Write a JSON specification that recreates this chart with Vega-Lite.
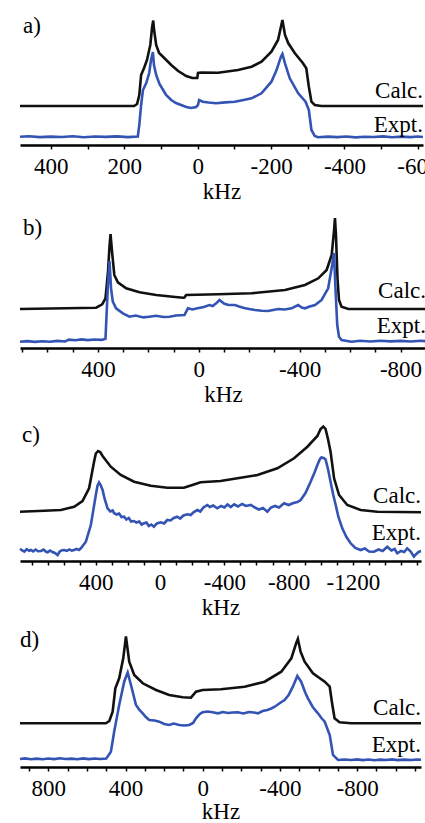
{
  "$schema": "https://vega.github.io/schema/vega-lite/v6.json",
  "padding": {"left": 14, "top": 8, "right": 0, "bottom": 0},
  "spacing": 62,
  "bounds": "flush",
  "config": {
    "view": {"stroke": null},
    "font": "Liberation Serif",
    "text": {"font": "Liberation Serif"},
    "axis": {
      "labelFont": "Liberation Serif", "labelFontSize": 23, "labelColor": "#000",
      "titleFont": "Liberation Serif", "titleFontSize": 23, "titleFontWeight": "normal", "titleColor": "#000",
      "domainColor": "#000", "domainWidth": 2.5, "tickColor": "#000", "tickWidth": 1.5, "tickSize": 4,
      "labelPadding": 6, "titlePadding": 2, "grid": false, "labelOverlap": false, "labelFlush": false
    },
    "line": {"strokeWidth": 2.6}
  },
  "datasets": {
    "a": [
      {"kHz":484,"intensity":39,"series":"Calc"},{"kHz":173,"intensity":39,"series":"Calc"},{"kHz":165,"intensity":41,"series":"Calc"},{"kHz":159,"intensity":50,"series":"Calc"},{"kHz":154,"intensity":70,"series":"Calc"},{"kHz":146,"intensity":77,"series":"Calc"},{"kHz":138,"intensity":85,"series":"Calc"},{"kHz":129,"intensity":100,"series":"Calc"},{"kHz":124,"intensity":118,"series":"Calc"},{"kHz":121,"intensity":124.5,"series":"Calc"},{"kHz":119,"intensity":116,"series":"Calc"},{"kHz":113,"intensity":100,"series":"Calc"},{"kHz":105,"intensity":92,"series":"Calc"},{"kHz":91,"intensity":87,"series":"Calc"},{"kHz":72,"intensity":80,"series":"Calc"},{"kHz":53,"intensity":74,"series":"Calc"},{"kHz":31,"intensity":69,"series":"Calc"},{"kHz":15,"intensity":67,"series":"Calc"},{"kHz":1,"intensity":67,"series":"Calc"},{"kHz":-1,"intensity":72,"series":"Calc"},{"kHz":-10,"intensity":72.5,"series":"Calc"},{"kHz":-56,"intensity":72.3,"series":"Calc"},{"kHz":-110,"intensity":75,"series":"Calc"},{"kHz":-147,"intensity":78.3,"series":"Calc"},{"kHz":-174,"intensity":83.3,"series":"Calc"},{"kHz":-201,"intensity":93.3,"series":"Calc"},{"kHz":-219,"intensity":105,"series":"Calc"},{"kHz":-228,"intensity":120,"series":"Calc"},{"kHz":-231,"intensity":125,"series":"Calc"},{"kHz":-238,"intensity":110,"series":"Calc"},{"kHz":-247,"intensity":101.7,"series":"Calc"},{"kHz":-265,"intensity":91.7,"series":"Calc"},{"kHz":-287,"intensity":81.7,"series":"Calc"},{"kHz":-296,"intensity":76.7,"series":"Calc"},{"kHz":-303,"intensity":58.3,"series":"Calc"},{"kHz":-310,"intensity":43.3,"series":"Calc"},{"kHz":-319,"intensity":40,"series":"Calc"},{"kHz":-337,"intensity":39,"series":"Calc"},{"kHz":-614,"intensity":39,"series":"Calc"},
      {"kHz":484,"intensity":8.3,"series":"Expt"},{"kHz":460,"intensity":8.8,"series":"Expt"},{"kHz":430,"intensity":7.9,"series":"Expt"},{"kHz":400,"intensity":8.4,"series":"Expt"},{"kHz":370,"intensity":8.0,"series":"Expt"},{"kHz":340,"intensity":8.7,"series":"Expt"},{"kHz":310,"intensity":7.8,"series":"Expt"},{"kHz":280,"intensity":8.5,"series":"Expt"},{"kHz":250,"intensity":8.1,"series":"Expt"},{"kHz":220,"intensity":8.6,"series":"Expt"},{"kHz":190,"intensity":7.9,"series":"Expt"},{"kHz":163,"intensity":8.5,"series":"Expt"},{"kHz":159,"intensity":20,"series":"Expt"},{"kHz":154,"intensity":40,"series":"Expt"},{"kHz":149,"intensity":55,"series":"Expt"},{"kHz":140,"intensity":62,"series":"Expt"},{"kHz":132,"intensity":72,"series":"Expt"},{"kHz":127,"intensity":85,"series":"Expt"},{"kHz":122,"intensity":93,"series":"Expt"},{"kHz":119,"intensity":80,"series":"Expt"},{"kHz":113,"intensity":70,"series":"Expt"},{"kHz":104,"intensity":61,"series":"Expt"},{"kHz":94,"intensity":55,"series":"Expt"},{"kHz":86,"intensity":50,"series":"Expt"},{"kHz":72,"intensity":45,"series":"Expt"},{"kHz":59,"intensity":42,"series":"Expt"},{"kHz":45,"intensity":40,"series":"Expt"},{"kHz":31,"intensity":38,"series":"Expt"},{"kHz":18,"intensity":37,"series":"Expt"},{"kHz":4,"intensity":38,"series":"Expt"},{"kHz":-1,"intensity":40,"series":"Expt"},{"kHz":-4,"intensity":45,"series":"Expt"},{"kHz":-14,"intensity":43.3,"series":"Expt"},{"kHz":-30,"intensity":42.5,"series":"Expt"},{"kHz":-50,"intensity":41.7,"series":"Expt"},{"kHz":-75,"intensity":42.6,"series":"Expt"},{"kHz":-101,"intensity":43.3,"series":"Expt"},{"kHz":-125,"intensity":45,"series":"Expt"},{"kHz":-147,"intensity":46.7,"series":"Expt"},{"kHz":-174,"intensity":51.7,"series":"Expt"},{"kHz":-201,"intensity":63.3,"series":"Expt"},{"kHz":-215,"intensity":75,"series":"Expt"},{"kHz":-227,"intensity":88.3,"series":"Expt"},{"kHz":-231,"intensity":91,"series":"Expt"},{"kHz":-238,"intensity":81.7,"series":"Expt"},{"kHz":-251,"intensity":66.7,"series":"Expt"},{"kHz":-274,"intensity":51.7,"series":"Expt"},{"kHz":-294,"intensity":43.3,"series":"Expt"},{"kHz":-303,"intensity":35,"series":"Expt"},{"kHz":-310,"intensity":15,"series":"Expt"},{"kHz":-319,"intensity":9,"series":"Expt"},{"kHz":-328,"intensity":7.7,"series":"Expt"},{"kHz":-355,"intensity":8.4,"series":"Expt"},{"kHz":-380,"intensity":7.9,"series":"Expt"},{"kHz":-405,"intensity":8.5,"series":"Expt"},{"kHz":-430,"intensity":7.6,"series":"Expt"},{"kHz":-455,"intensity":8.3,"series":"Expt"},{"kHz":-480,"intensity":8.0,"series":"Expt"},{"kHz":-505,"intensity":8.6,"series":"Expt"},{"kHz":-530,"intensity":7.8,"series":"Expt"},{"kHz":-555,"intensity":8.4,"series":"Expt"},{"kHz":-580,"intensity":7.9,"series":"Expt"},{"kHz":-600,"intensity":8.5,"series":"Expt"},{"kHz":-614,"intensity":8.0,"series":"Expt"}
    ],
    "b": [
      {"kHz":709,"intensity":39,"series":"Calc"},{"kHz":407,"intensity":40.3,"series":"Calc"},{"kHz":383,"intensity":43.7,"series":"Calc"},{"kHz":370,"intensity":49.7,"series":"Calc"},{"kHz":360,"intensity":76.3,"series":"Calc"},{"kHz":354,"intensity":102,"series":"Calc"},{"kHz":350,"intensity":114,"series":"Calc"},{"kHz":344,"intensity":96.3,"series":"Calc"},{"kHz":335,"intensity":73,"series":"Calc"},{"kHz":321,"intensity":65.7,"series":"Calc"},{"kHz":288,"intensity":59.7,"series":"Calc"},{"kHz":235,"intensity":55.7,"series":"Calc"},{"kHz":169,"intensity":53,"series":"Calc"},{"kHz":103,"intensity":51.3,"series":"Calc"},{"kHz":63,"intensity":50.3,"series":"Calc"},{"kHz":57,"intensity":50.5,"series":"Calc"},{"kHz":50,"intensity":53,"series":"Calc"},{"kHz":-77,"intensity":53.7,"series":"Calc"},{"kHz":-209,"intensity":54.7,"series":"Calc"},{"kHz":-342,"intensity":58,"series":"Calc"},{"kHz":-421,"intensity":63,"series":"Calc"},{"kHz":-474,"intensity":69.7,"series":"Calc"},{"kHz":-507,"intensity":78,"series":"Calc"},{"kHz":-527,"intensity":93,"series":"Calc"},{"kHz":-536,"intensity":116.3,"series":"Calc"},{"kHz":-540,"intensity":130,"series":"Calc"},{"kHz":-544,"intensity":113,"series":"Calc"},{"kHz":-550,"intensity":69.7,"series":"Calc"},{"kHz":-556,"intensity":48,"series":"Calc"},{"kHz":-566,"intensity":41.3,"series":"Calc"},{"kHz":-593,"intensity":39,"series":"Calc"},{"kHz":-901,"intensity":39,"series":"Calc"},
      {"kHz":709,"intensity":6.3,"series":"Expt"},{"kHz":680,"intensity":6.9,"series":"Expt"},{"kHz":650,"intensity":6.1,"series":"Expt"},{"kHz":620,"intensity":6.8,"series":"Expt"},{"kHz":590,"intensity":6.2,"series":"Expt"},{"kHz":560,"intensity":7.1,"series":"Expt"},{"kHz":530,"intensity":6.5,"series":"Expt"},{"kHz":515,"intensity":8.3,"series":"Expt"},{"kHz":490,"intensity":7.7,"series":"Expt"},{"kHz":465,"intensity":8.6,"series":"Expt"},{"kHz":440,"intensity":7.9,"series":"Expt"},{"kHz":415,"intensity":8.5,"series":"Expt"},{"kHz":385,"intensity":8.1,"series":"Expt"},{"kHz":370,"intensity":9.3,"series":"Expt"},{"kHz":361,"intensity":59.7,"series":"Expt"},{"kHz":354,"intensity":87,"series":"Expt"},{"kHz":348,"intensity":59.7,"series":"Expt"},{"kHz":341,"intensity":46.3,"series":"Expt"},{"kHz":328,"intensity":39.7,"series":"Expt"},{"kHz":301,"intensity":34.7,"series":"Expt"},{"kHz":275,"intensity":31.3,"series":"Expt"},{"kHz":250,"intensity":32.5,"series":"Expt"},{"kHz":220,"intensity":30.6,"series":"Expt"},{"kHz":196,"intensity":31.3,"series":"Expt"},{"kHz":170,"intensity":32.2,"series":"Expt"},{"kHz":140,"intensity":31,"series":"Expt"},{"kHz":116,"intensity":31.3,"series":"Expt"},{"kHz":90,"intensity":32.5,"series":"Expt"},{"kHz":57,"intensity":33,"series":"Expt"},{"kHz":43,"intensity":39.7,"series":"Expt"},{"kHz":25,"intensity":38.5,"series":"Expt"},{"kHz":10,"intensity":39.5,"series":"Expt"},{"kHz":-20,"intensity":41,"series":"Expt"},{"kHz":-42,"intensity":43,"series":"Expt"},{"kHz":-55,"intensity":42,"series":"Expt"},{"kHz":-69,"intensity":44.7,"series":"Expt"},{"kHz":-82,"intensity":48,"series":"Expt"},{"kHz":-100,"intensity":44.5,"series":"Expt"},{"kHz":-117,"intensity":43,"series":"Expt"},{"kHz":-143,"intensity":43,"series":"Expt"},{"kHz":-160,"intensity":41.5,"series":"Expt"},{"kHz":-180,"intensity":40,"series":"Expt"},{"kHz":-200,"intensity":39,"series":"Expt"},{"kHz":-223,"intensity":38,"series":"Expt"},{"kHz":-250,"intensity":37.2,"series":"Expt"},{"kHz":-275,"intensity":37,"series":"Expt"},{"kHz":-295,"intensity":38,"series":"Expt"},{"kHz":-315,"intensity":39,"series":"Expt"},{"kHz":-340,"intensity":38.5,"series":"Expt"},{"kHz":-368,"intensity":39.7,"series":"Expt"},{"kHz":-394,"intensity":43,"series":"Expt"},{"kHz":-408,"intensity":40.5,"series":"Expt"},{"kHz":-421,"intensity":39.7,"series":"Expt"},{"kHz":-440,"intensity":41.5,"series":"Expt"},{"kHz":-461,"intensity":43,"series":"Expt"},{"kHz":-487,"intensity":48,"series":"Expt"},{"kHz":-513,"intensity":59.7,"series":"Expt"},{"kHz":-529,"intensity":83,"series":"Expt"},{"kHz":-536,"intensity":95,"series":"Expt"},{"kHz":-542,"intensity":59.7,"series":"Expt"},{"kHz":-549,"intensity":23,"series":"Expt"},{"kHz":-556,"intensity":11.3,"series":"Expt"},{"kHz":-566,"intensity":8,"series":"Expt"},{"kHz":-606,"intensity":6.3,"series":"Expt"},{"kHz":-640,"intensity":7.2,"series":"Expt"},{"kHz":-680,"intensity":6.5,"series":"Expt"},{"kHz":-720,"intensity":7.3,"series":"Expt"},{"kHz":-760,"intensity":6.6,"series":"Expt"},{"kHz":-800,"intensity":7.1,"series":"Expt"},{"kHz":-840,"intensity":6.5,"series":"Expt"},{"kHz":-880,"intensity":7.2,"series":"Expt"},{"kHz":-901,"intensity":6.8,"series":"Expt"}
    ],
    "c": [
      {"kHz":872,"intensity":49.3,"series":"Calc"},{"kHz":721,"intensity":50.3,"series":"Calc"},{"kHz":617,"intensity":51,"series":"Calc"},{"kHz":535,"intensity":54.3,"series":"Calc"},{"kHz":483,"intensity":60,"series":"Calc"},{"kHz":442,"intensity":72.7,"series":"Calc"},{"kHz":411,"intensity":99.3,"series":"Calc"},{"kHz":400,"intensity":107.5,"series":"Calc"},{"kHz":386,"intensity":110,"series":"Calc"},{"kHz":373,"intensity":109,"series":"Calc"},{"kHz":358,"intensity":105,"series":"Calc"},{"kHz":307,"intensity":94.3,"series":"Calc"},{"kHz":245,"intensity":86,"series":"Calc"},{"kHz":162,"intensity":79.3,"series":"Calc"},{"kHz":58,"intensity":75.3,"series":"Calc"},{"kHz":-45,"intensity":73.3,"series":"Calc"},{"kHz":-148,"intensity":73.3,"series":"Calc"},{"kHz":-201,"intensity":76,"series":"Calc"},{"kHz":-252,"intensity":78.7,"series":"Calc"},{"kHz":-376,"intensity":80,"series":"Calc"},{"kHz":-482,"intensity":82.7,"series":"Calc"},{"kHz":-606,"intensity":86,"series":"Calc"},{"kHz":-730,"intensity":92.7,"series":"Calc"},{"kHz":-834,"intensity":102.7,"series":"Calc"},{"kHz":-917,"intensity":114.3,"series":"Calc"},{"kHz":-979,"intensity":125,"series":"Calc"},{"kHz":-999,"intensity":132,"series":"Calc"},{"kHz":-1016,"intensity":134.5,"series":"Calc"},{"kHz":-1030,"intensity":132,"series":"Calc"},{"kHz":-1045,"intensity":122,"series":"Calc"},{"kHz":-1061,"intensity":109.3,"series":"Calc"},{"kHz":-1083,"intensity":82.7,"series":"Calc"},{"kHz":-1114,"intensity":66,"series":"Calc"},{"kHz":-1165,"intensity":56,"series":"Calc"},{"kHz":-1248,"intensity":51,"series":"Calc"},{"kHz":-1352,"intensity":49.3,"series":"Calc"},{"kHz":-1624,"intensity":48.7,"series":"Calc"},
      {"kHz":872,"intensity":12.3,"series":"Expt"},{"kHz":858,"intensity":10.5,"series":"Expt"},{"kHz":845,"intensity":9.3,"series":"Expt"},{"kHz":830,"intensity":11.8,"series":"Expt"},{"kHz":815,"intensity":10.2,"series":"Expt"},{"kHz":804,"intensity":11,"series":"Expt"},{"kHz":790,"intensity":9.6,"series":"Expt"},{"kHz":775,"intensity":11.5,"series":"Expt"},{"kHz":760,"intensity":9.8,"series":"Expt"},{"kHz":742,"intensity":10,"series":"Expt"},{"kHz":725,"intensity":11.4,"series":"Expt"},{"kHz":710,"intensity":9.2,"series":"Expt"},{"kHz":700,"intensity":8.7,"series":"Expt"},{"kHz":685,"intensity":10.5,"series":"Expt"},{"kHz":670,"intensity":9,"series":"Expt"},{"kHz":655,"intensity":8,"series":"Expt"},{"kHz":638,"intensity":6,"series":"Expt"},{"kHz":625,"intensity":9.5,"series":"Expt"},{"kHz":610,"intensity":10.8,"series":"Expt"},{"kHz":597,"intensity":11,"series":"Expt"},{"kHz":580,"intensity":10.2,"series":"Expt"},{"kHz":565,"intensity":11.6,"series":"Expt"},{"kHz":550,"intensity":10.4,"series":"Expt"},{"kHz":535,"intensity":11,"series":"Expt"},{"kHz":520,"intensity":12.1,"series":"Expt"},{"kHz":505,"intensity":11,"series":"Expt"},{"kHz":493,"intensity":12.7,"series":"Expt"},{"kHz":462,"intensity":19.3,"series":"Expt"},{"kHz":431,"intensity":36,"series":"Expt"},{"kHz":400,"intensity":66,"series":"Expt"},{"kHz":390,"intensity":75,"series":"Expt"},{"kHz":380,"intensity":78.5,"series":"Expt"},{"kHz":370,"intensity":76,"series":"Expt"},{"kHz":358,"intensity":71,"series":"Expt"},{"kHz":345,"intensity":62,"series":"Expt"},{"kHz":327,"intensity":52.7,"series":"Expt"},{"kHz":310,"intensity":49.5,"series":"Expt"},{"kHz":295,"intensity":50.5,"series":"Expt"},{"kHz":286,"intensity":47.7,"series":"Expt"},{"kHz":270,"intensity":46.5,"series":"Expt"},{"kHz":255,"intensity":47.5,"series":"Expt"},{"kHz":240,"intensity":44,"series":"Expt"},{"kHz":224,"intensity":44.3,"series":"Expt"},{"kHz":210,"intensity":41.5,"series":"Expt"},{"kHz":195,"intensity":43,"series":"Expt"},{"kHz":180,"intensity":39.5,"series":"Expt"},{"kHz":162,"intensity":40,"series":"Expt"},{"kHz":148,"intensity":38.5,"series":"Expt"},{"kHz":130,"intensity":39.5,"series":"Expt"},{"kHz":115,"intensity":36.5,"series":"Expt"},{"kHz":100,"intensity":37.7,"series":"Expt"},{"kHz":85,"intensity":38.5,"series":"Expt"},{"kHz":70,"intensity":35,"series":"Expt"},{"kHz":55,"intensity":36.5,"series":"Expt"},{"kHz":38,"intensity":34.3,"series":"Expt"},{"kHz":20,"intensity":37.5,"series":"Expt"},{"kHz":-4,"intensity":38.7,"series":"Expt"},{"kHz":-25,"intensity":37.5,"series":"Expt"},{"kHz":-45,"intensity":41,"series":"Expt"},{"kHz":-65,"intensity":40.5,"series":"Expt"},{"kHz":-85,"intensity":43,"series":"Expt"},{"kHz":-107,"intensity":44.3,"series":"Expt"},{"kHz":-125,"intensity":42.5,"series":"Expt"},{"kHz":-145,"intensity":45.5,"series":"Expt"},{"kHz":-170,"intensity":46.7,"series":"Expt"},{"kHz":-190,"intensity":46,"series":"Expt"},{"kHz":-210,"intensity":49,"series":"Expt"},{"kHz":-232,"intensity":51,"series":"Expt"},{"kHz":-250,"intensity":49.5,"series":"Expt"},{"kHz":-270,"intensity":53.5,"series":"Expt"},{"kHz":-294,"intensity":56,"series":"Expt"},{"kHz":-310,"intensity":54,"series":"Expt"},{"kHz":-330,"intensity":55.5,"series":"Expt"},{"kHz":-356,"intensity":52.7,"series":"Expt"},{"kHz":-380,"intensity":55,"series":"Expt"},{"kHz":-400,"intensity":53.5,"series":"Expt"},{"kHz":-420,"intensity":56.5,"series":"Expt"},{"kHz":-440,"intensity":54,"series":"Expt"},{"kHz":-461,"intensity":56.7,"series":"Expt"},{"kHz":-485,"intensity":54.5,"series":"Expt"},{"kHz":-510,"intensity":57,"series":"Expt"},{"kHz":-535,"intensity":55,"series":"Expt"},{"kHz":-565,"intensity":56,"series":"Expt"},{"kHz":-590,"intensity":53.5,"series":"Expt"},{"kHz":-615,"intensity":51.5,"series":"Expt"},{"kHz":-640,"intensity":53,"series":"Expt"},{"kHz":-668,"intensity":49.3,"series":"Expt"},{"kHz":-690,"intensity":53.5,"series":"Expt"},{"kHz":-715,"intensity":55,"series":"Expt"},{"kHz":-740,"intensity":53.5,"series":"Expt"},{"kHz":-772,"intensity":57.7,"series":"Expt"},{"kHz":-800,"intensity":56,"series":"Expt"},{"kHz":-830,"intensity":58,"series":"Expt"},{"kHz":-855,"intensity":59,"series":"Expt"},{"kHz":-875,"intensity":61,"series":"Expt"},{"kHz":-905,"intensity":68,"series":"Expt"},{"kHz":-937,"intensity":79.3,"series":"Expt"},{"kHz":-960,"intensity":88,"series":"Expt"},{"kHz":-979,"intensity":96,"series":"Expt"},{"kHz":-995,"intensity":102,"series":"Expt"},{"kHz":-1004,"intensity":103.5,"series":"Expt"},{"kHz":-1018,"intensity":103,"series":"Expt"},{"kHz":-1030,"intensity":101.5,"series":"Expt"},{"kHz":-1045,"intensity":92,"series":"Expt"},{"kHz":-1061,"intensity":79.3,"series":"Expt"},{"kHz":-1078,"intensity":66,"series":"Expt"},{"kHz":-1093,"intensity":56,"series":"Expt"},{"kHz":-1110,"intensity":44,"series":"Expt"},{"kHz":-1134,"intensity":32.7,"series":"Expt"},{"kHz":-1160,"intensity":24,"series":"Expt"},{"kHz":-1186,"intensity":17.7,"series":"Expt"},{"kHz":-1215,"intensity":13,"series":"Expt"},{"kHz":-1248,"intensity":11,"series":"Expt"},{"kHz":-1275,"intensity":12.5,"series":"Expt"},{"kHz":-1300,"intensity":9.5,"series":"Expt"},{"kHz":-1331,"intensity":9.3,"series":"Expt"},{"kHz":-1360,"intensity":11.5,"series":"Expt"},{"kHz":-1385,"intensity":10,"series":"Expt"},{"kHz":-1414,"intensity":14.3,"series":"Expt"},{"kHz":-1440,"intensity":10.5,"series":"Expt"},{"kHz":-1460,"intensity":12,"series":"Expt"},{"kHz":-1476,"intensity":7.7,"series":"Expt"},{"kHz":-1500,"intensity":10,"series":"Expt"},{"kHz":-1520,"intensity":9,"series":"Expt"},{"kHz":-1538,"intensity":12.7,"series":"Expt"},{"kHz":-1560,"intensity":9.5,"series":"Expt"},{"kHz":-1580,"intensity":4.3,"series":"Expt"},{"kHz":-1595,"intensity":7,"series":"Expt"},{"kHz":-1611,"intensity":9.3,"series":"Expt"},{"kHz":-1624,"intensity":10,"series":"Expt"}
    ],
    "d": [
      {"kHz":947,"intensity":43.7,"series":"Calc"},{"kHz":502,"intensity":43.7,"series":"Calc"},{"kHz":484,"intensity":46,"series":"Calc"},{"kHz":467,"intensity":55.3,"series":"Calc"},{"kHz":453,"intensity":78.7,"series":"Calc"},{"kHz":433,"intensity":88.7,"series":"Calc"},{"kHz":412,"intensity":108.7,"series":"Calc"},{"kHz":398,"intensity":130.5,"series":"Calc"},{"kHz":381,"intensity":105.3,"series":"Calc"},{"kHz":355,"intensity":92,"series":"Calc"},{"kHz":311,"intensity":83.7,"series":"Calc"},{"kHz":242,"intensity":77,"series":"Calc"},{"kHz":174,"intensity":72,"series":"Calc"},{"kHz":104,"intensity":69.7,"series":"Calc"},{"kHz":61,"intensity":69.3,"series":"Calc"},{"kHz":35,"intensity":75.3,"series":"Calc"},{"kHz":1,"intensity":77,"series":"Calc"},{"kHz":-94,"intensity":77.7,"series":"Calc"},{"kHz":-217,"intensity":80.3,"series":"Calc"},{"kHz":-321,"intensity":85.3,"series":"Calc"},{"kHz":-407,"intensity":95.3,"series":"Calc"},{"kHz":-459,"intensity":108.7,"series":"Calc"},{"kHz":-484,"intensity":123.7,"series":"Calc"},{"kHz":-493,"intensity":128,"series":"Calc"},{"kHz":-507,"intensity":115.3,"series":"Calc"},{"kHz":-528,"intensity":105.3,"series":"Calc"},{"kHz":-571,"intensity":93.7,"series":"Calc"},{"kHz":-632,"intensity":85.3,"series":"Calc"},{"kHz":-658,"intensity":80.3,"series":"Calc"},{"kHz":-669,"intensity":65.3,"series":"Calc"},{"kHz":-683,"intensity":48.7,"series":"Calc"},{"kHz":-709,"intensity":44.7,"series":"Calc"},{"kHz":-769,"intensity":43.7,"series":"Calc"},{"kHz":-1131,"intensity":43.7,"series":"Calc"},
      {"kHz":947,"intensity":8,"series":"Expt"},{"kHz":920,"intensity":8.6,"series":"Expt"},{"kHz":890,"intensity":7.8,"series":"Expt"},{"kHz":860,"intensity":8.4,"series":"Expt"},{"kHz":830,"intensity":7.7,"series":"Expt"},{"kHz":800,"intensity":8.5,"series":"Expt"},{"kHz":770,"intensity":7.9,"series":"Expt"},{"kHz":740,"intensity":8.8,"series":"Expt"},{"kHz":710,"intensity":8,"series":"Expt"},{"kHz":680,"intensity":8.4,"series":"Expt"},{"kHz":650,"intensity":7.8,"series":"Expt"},{"kHz":620,"intensity":8.6,"series":"Expt"},{"kHz":590,"intensity":7.9,"series":"Expt"},{"kHz":560,"intensity":8.5,"series":"Expt"},{"kHz":530,"intensity":8,"series":"Expt"},{"kHz":500,"intensity":8.4,"series":"Expt"},{"kHz":476,"intensity":15.3,"series":"Expt"},{"kHz":459,"intensity":35.3,"series":"Expt"},{"kHz":433,"intensity":62,"series":"Expt"},{"kHz":407,"intensity":85.3,"series":"Expt"},{"kHz":389,"intensity":94.5,"series":"Expt"},{"kHz":372,"intensity":82,"series":"Expt"},{"kHz":346,"intensity":62,"series":"Expt"},{"kHz":328,"intensity":57,"series":"Expt"},{"kHz":311,"intensity":53.7,"series":"Expt"},{"kHz":295,"intensity":50,"series":"Expt"},{"kHz":277,"intensity":47,"series":"Expt"},{"kHz":250,"intensity":46.5,"series":"Expt"},{"kHz":225,"intensity":45.3,"series":"Expt"},{"kHz":200,"intensity":43,"series":"Expt"},{"kHz":174,"intensity":42,"series":"Expt"},{"kHz":150,"intensity":43.5,"series":"Expt"},{"kHz":122,"intensity":42,"series":"Expt"},{"kHz":95,"intensity":41.5,"series":"Expt"},{"kHz":70,"intensity":42,"series":"Expt"},{"kHz":50,"intensity":44,"series":"Expt"},{"kHz":35,"intensity":48.7,"series":"Expt"},{"kHz":15,"intensity":53,"series":"Expt"},{"kHz":1,"intensity":54.7,"series":"Expt"},{"kHz":-25,"intensity":55.5,"series":"Expt"},{"kHz":-51,"intensity":54.7,"series":"Expt"},{"kHz":-79,"intensity":53.7,"series":"Expt"},{"kHz":-105,"intensity":55,"series":"Expt"},{"kHz":-130,"intensity":54,"series":"Expt"},{"kHz":-155,"intensity":54.5,"series":"Expt"},{"kHz":-182,"intensity":54.7,"series":"Expt"},{"kHz":-210,"intensity":53.5,"series":"Expt"},{"kHz":-240,"intensity":55,"series":"Expt"},{"kHz":-265,"intensity":54.5,"series":"Expt"},{"kHz":-286,"intensity":53.7,"series":"Expt"},{"kHz":-310,"intensity":56,"series":"Expt"},{"kHz":-335,"intensity":57,"series":"Expt"},{"kHz":-355,"intensity":58.5,"series":"Expt"},{"kHz":-373,"intensity":60.3,"series":"Expt"},{"kHz":-400,"intensity":64,"series":"Expt"},{"kHz":-424,"intensity":67,"series":"Expt"},{"kHz":-445,"intensity":72,"series":"Expt"},{"kHz":-467,"intensity":80.3,"series":"Expt"},{"kHz":-490,"intensity":91,"series":"Expt"},{"kHz":-510,"intensity":85.3,"series":"Expt"},{"kHz":-530,"intensity":75,"series":"Expt"},{"kHz":-545,"intensity":68.7,"series":"Expt"},{"kHz":-570,"intensity":60,"series":"Expt"},{"kHz":-597,"intensity":53.7,"series":"Expt"},{"kHz":-615,"intensity":49,"series":"Expt"},{"kHz":-632,"intensity":45.3,"series":"Expt"},{"kHz":-658,"intensity":32,"series":"Expt"},{"kHz":-675,"intensity":12,"series":"Expt"},{"kHz":-701,"intensity":7,"series":"Expt"},{"kHz":-735,"intensity":7.5,"series":"Expt"},{"kHz":-769,"intensity":7,"series":"Expt"},{"kHz":-800,"intensity":7.6,"series":"Expt"},{"kHz":-830,"intensity":6.9,"series":"Expt"},{"kHz":-860,"intensity":7.5,"series":"Expt"},{"kHz":-890,"intensity":6.8,"series":"Expt"},{"kHz":-920,"intensity":7.4,"series":"Expt"},{"kHz":-950,"intensity":7,"series":"Expt"},{"kHz":-980,"intensity":7.6,"series":"Expt"},{"kHz":-1010,"intensity":6.9,"series":"Expt"},{"kHz":-1040,"intensity":7.4,"series":"Expt"},{"kHz":-1080,"intensity":7,"series":"Expt"},{"kHz":-1110,"intensity":7.5,"series":"Expt"},{"kHz":-1131,"intensity":7.2,"series":"Expt"}
    ]
  },
  "vconcat": [
    {
      "width": 403, "height": 137,
      "layer": [
        {
          "data": {"name": "a"},
          "mark": {"type": "line"},
          "encoding": {
            "x": {"field": "kHz", "type": "quantitative", "scale": {"domain": [484, -614], "nice": false, "zero": false},
                  "axis": {"title": "kHz", "tickCount": 100, "labelOverlap": false, "values": [400,300,200,100,0,-100,-200,-300,-400,-500,-600], "labelExpr": "indexof([400,200,0,-200,-400,-600], datum.value) >= 0 ? '' + datum.value : ''"}},
            "y": {"field": "intensity", "type": "quantitative", "scale": {"domain": [0, 137], "nice": false, "zero": false}, "axis": null},
            "color": {"field": "series", "type": "nominal", "scale": {"domain": ["Calc", "Expt"], "range": ["#111111", "#3454b4"]}, "legend": null}
          }
        },
        {"data": {"values": [{}]}, "mark": {"type": "text", "font": "Liberation Serif", "align": "left", "baseline": "alphabetic", "fontSize": 23, "dx": 3, "color": "#000"},
         "encoding": {"x": {"datum": 484, "type": "quantitative"}, "y": {"datum": 112, "type": "quantitative"}, "text": {"value": "a)"}}},
        {"data": {"values": [{}]}, "mark": {"type": "text", "font": "Liberation Serif", "align": "right", "baseline": "alphabetic", "fontSize": 23, "color": "#000"},
         "encoding": {"x": {"datum": -614, "type": "quantitative"}, "y": {"datum": 46.7, "type": "quantitative"}, "text": {"value": "Calc."}}},
        {"data": {"values": [{}]}, "mark": {"type": "text", "font": "Liberation Serif", "align": "right", "baseline": "alphabetic", "fontSize": 23, "color": "#000"},
         "encoding": {"x": {"datum": -614, "type": "quantitative"}, "y": {"datum": 13.3, "type": "quantitative"}, "text": {"value": "Expt."}}}
      ]
    },
    {
      "width": 406, "height": 141,
      "layer": [
        {
          "data": {"name": "b"},
          "mark": {"type": "line"},
          "encoding": {
            "x": {"field": "kHz", "type": "quantitative", "scale": {"domain": [709, -901], "nice": false, "zero": false},
                  "axis": {"title": "kHz", "tickCount": 100, "labelOverlap": false, "values": [700,600,500,400,300,200,100,0,-100,-200,-300,-400,-500,-600,-700,-800,-900], "labelExpr": "indexof([400,0,-400,-800], datum.value) >= 0 ? '' + datum.value : ''"}},
            "y": {"field": "intensity", "type": "quantitative", "scale": {"domain": [0, 141], "nice": false, "zero": false}, "axis": null},
            "color": {"field": "series", "type": "nominal", "scale": {"domain": ["Calc", "Expt"], "range": ["#111111", "#3454b4"]}, "legend": null}
          }
        },
        {"data": {"values": [{}]}, "mark": {"type": "text", "font": "Liberation Serif", "align": "left", "baseline": "alphabetic", "fontSize": 23, "dx": 3, "color": "#000"},
         "encoding": {"x": {"datum": 709, "type": "quantitative"}, "y": {"datum": 113, "type": "quantitative"}, "text": {"value": "b)"}}},
        {"data": {"values": [{}]}, "mark": {"type": "text", "font": "Liberation Serif", "align": "right", "baseline": "alphabetic", "fontSize": 23, "color": "#000"},
         "encoding": {"x": {"datum": -901, "type": "quantitative"}, "y": {"datum": 49.7, "type": "quantitative"}, "text": {"value": "Calc."}}},
        {"data": {"values": [{}]}, "mark": {"type": "text", "font": "Liberation Serif", "align": "right", "baseline": "alphabetic", "fontSize": 23, "color": "#000"},
         "encoding": {"x": {"datum": -901, "type": "quantitative"}, "y": {"datum": 14.7, "type": "quantitative"}, "text": {"value": "Expt."}}}
      ]
    },
    {
      "width": 401, "height": 151,
      "layer": [
        {
          "data": {"name": "c"},
          "mark": {"type": "line"},
          "encoding": {
            "x": {"field": "kHz", "type": "quantitative", "scale": {"domain": [872, -1624], "nice": false, "zero": false},
                  "axis": {"title": "kHz", "tickCount": 100, "labelOverlap": false, "values": [800,700,600,500,400,300,200,100,0,-100,-200,-300,-400,-500,-600,-700,-800,-900,-1000,-1100,-1200,-1300,-1400,-1500,-1600], "labelExpr": "indexof([400,0,-400,-800,-1200], datum.value) >= 0 ? '' + datum.value : ''"}},
            "y": {"field": "intensity", "type": "quantitative", "scale": {"domain": [0, 151], "nice": false, "zero": false}, "axis": null},
            "color": {"field": "series", "type": "nominal", "scale": {"domain": ["Calc", "Expt"], "range": ["#111111", "#3454b4"]}, "legend": null}
          }
        },
        {"data": {"values": [{}]}, "mark": {"type": "text", "font": "Liberation Serif", "align": "left", "baseline": "alphabetic", "fontSize": 23, "dx": 2, "color": "#000"},
         "encoding": {"x": {"datum": 872, "type": "quantitative"}, "y": {"datum": 119.3, "type": "quantitative"}, "text": {"value": "c)"}}},
        {"data": {"values": [{}]}, "mark": {"type": "text", "font": "Liberation Serif", "align": "right", "baseline": "alphabetic", "fontSize": 23, "color": "#000"},
         "encoding": {"x": {"datum": -1624, "type": "quantitative"}, "y": {"datum": 57.7, "type": "quantitative"}, "text": {"value": "Calc."}}},
        {"data": {"values": [{}]}, "mark": {"type": "text", "font": "Liberation Serif", "align": "right", "baseline": "alphabetic", "fontSize": 23, "color": "#000"},
         "encoding": {"x": {"datum": -1624, "type": "quantitative"}, "y": {"datum": 21, "type": "quantitative"}, "text": {"value": "Expt."}}}
      ]
    },
    {
      "width": 401, "height": 144,
      "layer": [
        {
          "data": {"name": "d"},
          "mark": {"type": "line"},
          "encoding": {
            "x": {"field": "kHz", "type": "quantitative", "scale": {"domain": [947, -1131], "nice": false, "zero": false},
                  "axis": {"title": "kHz", "tickCount": 100, "titlePadding": 0, "labelOverlap": false, "values": [900,800,700,600,500,400,300,200,100,0,-100,-200,-300,-400,-500,-600,-700,-800,-900,-1000,-1100], "labelExpr": "indexof([800,400,0,-400,-800], datum.value) >= 0 ? '' + datum.value : ''"}},
            "y": {"field": "intensity", "type": "quantitative", "scale": {"domain": [0, 144], "nice": false, "zero": false}, "axis": null},
            "color": {"field": "series", "type": "nominal", "scale": {"domain": ["Calc", "Expt"], "range": ["#111111", "#3454b4"]}, "legend": null}
          }
        },
        {"data": {"values": [{}]}, "mark": {"type": "text", "font": "Liberation Serif", "align": "left", "baseline": "alphabetic", "fontSize": 23, "dx": 0, "color": "#000"},
         "encoding": {"x": {"datum": 947, "type": "quantitative"}, "y": {"datum": 120.3, "type": "quantitative"}, "text": {"value": "d)"}}},
        {"data": {"values": [{}]}, "mark": {"type": "text", "font": "Liberation Serif", "align": "right", "baseline": "alphabetic", "fontSize": 23, "color": "#000"},
         "encoding": {"x": {"datum": -1131, "type": "quantitative"}, "y": {"datum": 52, "type": "quantitative"}, "text": {"value": "Calc."}}},
        {"data": {"values": [{}]}, "mark": {"type": "text", "font": "Liberation Serif", "align": "right", "baseline": "alphabetic", "fontSize": 23, "color": "#000"},
         "encoding": {"x": {"datum": -1131, "type": "quantitative"}, "y": {"datum": 15.3, "type": "quantitative"}, "text": {"value": "Expt."}}}
      ]
    }
  ]
}
